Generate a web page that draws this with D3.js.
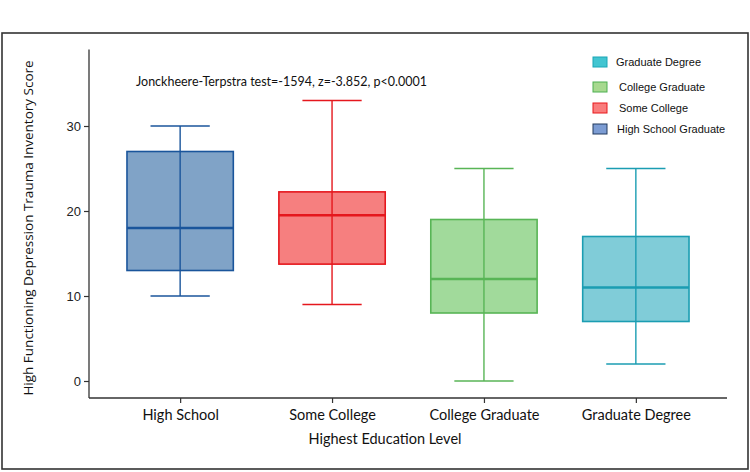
<!DOCTYPE html>
<html><head><meta charset="utf-8">
<script src="https://cdn.jsdelivr.net/npm/d3@7"></script>
<style>body{margin:0;background:#fff}svg{display:block}</style>
</head><body>
<svg id="c" width="750" height="472"></svg>
<script>
const categories = ["High School", "Some College", "College Graduate", "Graduate Degree"];
const whiskerLow  = [10, 9, 0, 2];
const q1          = [13, 13.75, 8, 7];
const median      = [18, 19.5, 12, 11];
const q3          = [27, 22.25, 19, 17];
const whiskerHigh = [30, 33, 25, 25];
const yTicks = [0, 10, 20, 30];
const legendLabels = ["Graduate Degree", "College Graduate", "Some College", "High School Graduate"];
const fills   = ["#80a3c7", "#f67f7f", "#a1da9b", "#80ccd8"];
const strokes = ["#1a559b", "#e5171d", "#58b556", "#1b9db2"];
const legendFills   = ["#42c5d1", "#a7d98f", "#f97d7d", "#7c9cd3"];
const legendStrokes = ["#1aa6b6", "#4caf50", "#e8181c", "#223a5e"];

const svg = d3.select("#c");
const font = "Lato, 'Liberation Sans', sans-serif";

// outer border
svg.append("rect").attr("x", 2).attr("y", 33).attr("width", 746).attr("height", 436)
  .attr("fill", "none").attr("stroke", "#333").attr("stroke-width", 1.6);

const x = d3.scalePoint().domain(categories).range([89, 727]).padding(0.6);
const y = d3.scaleLinear().domain([-2, 39]).range([398, 49.5]);
const step = x.step();

// axes
const yAxis = svg.append("g").attr("transform", "translate(89,0)")
  .call(d3.axisLeft(y).tickValues(yTicks).tickSize(5).tickPadding(3).tickSizeOuter(0));
const xAxis = svg.append("g").attr("transform", "translate(0,398)")
  .call(d3.axisBottom(x).tickSize(5).tickPadding(7).tickSizeOuter(0));
[yAxis, xAxis].forEach(a => {
  a.select(".domain").attr("stroke", "#333").attr("stroke-width", 1.3);
  a.selectAll(".tick line").attr("stroke", "#333").attr("stroke-width", 1.2);
});
yAxis.select(".domain").attr("d", `M0,${y.range()[1]}V${y.range()[0]}`);
xAxis.select(".domain").attr("d", `M89,0H727`);
yAxis.selectAll(".tick text").attr("font-family", "'Liberation Sans', Arial, sans-serif").attr("font-size", 13).attr("fill", "#222");
xAxis.selectAll(".tick text").attr("font-family", font).attr("font-size", 14.5).attr("fill", "#111");

// boxes
const data = categories.map((c, i) => ({c, i, lo: whiskerLow[i], q1: q1[i], med: median[i], q3: q3[i], hi: whiskerHigh[i]}));
const g = svg.append("g").selectAll("g").data(data).join("g");
const bw = step * 0.7, cw = step * 0.39;
g.append("rect")
  .attr("x", d => x(d.c) - bw / 2).attr("width", bw)
  .attr("y", d => y(d.q3)).attr("height", d => y(d.q1) - y(d.q3))
  .attr("fill", d => fills[d.i]).attr("stroke", d => strokes[d.i]).attr("stroke-width", 1.6);
g.append("line")
  .attr("x1", d => x(d.c)).attr("x2", d => x(d.c))
  .attr("y1", d => y(d.hi)).attr("y2", d => y(d.lo))
  .attr("stroke", d => strokes[d.i]).attr("stroke-width", 1.4);
g.selectAll(".cap").data(d => [d, d].map((e, k) => ({...e, v: k ? e.hi : e.lo}))).join("line")
  .attr("x1", d => x(d.c) - cw / 2).attr("x2", d => x(d.c) + cw / 2)
  .attr("y1", d => y(d.v)).attr("y2", d => y(d.v))
  .attr("stroke", d => strokes[d.i]).attr("stroke-width", 1.6);
g.append("line")
  .attr("x1", d => x(d.c) - bw / 2).attr("x2", d => x(d.c) + bw / 2)
  .attr("y1", d => y(d.med)).attr("y2", d => y(d.med))
  .attr("stroke", d => strokes[d.i]).attr("stroke-width", 2.4);

// annotation
svg.append("text").attr("x", 136).attr("y", 86).attr("font-family", font).attr("font-size", 12.5)
  .attr("fill", "#111").text("Jonckheere-Terpstra test=-1594, z=-3.852, p<0.0001");

// axis titles
svg.append("text").attr("x", 385).attr("y", 444).attr("text-anchor", "middle")
  .attr("font-family", font).attr("font-size", 14.5).attr("fill", "#111").text("Highest Education Level");
svg.append("text").attr("transform", "translate(33,228) rotate(-90)").attr("text-anchor", "middle")
  .attr("font-family", "'Open Sans', sans-serif").attr("font-size", 13.5).attr("fill", "#111")
  .text("High Functioning Depression Trauma Inventory Score");

// legend
const legY = [62, 87, 108, 129];
const leg = svg.append("g").selectAll("g").data(legendLabels).join("g")
  .attr("transform", (d, i) => `translate(593,${legY[i]})`);
leg.append("rect").attr("x", 0).attr("y", -5).attr("width", 14).attr("height", 10)
  .attr("fill", (d, i) => legendFills[i]).attr("stroke", (d, i) => legendStrokes[i]).attr("stroke-width", 1);
leg.append("text").attr("x", (d, i) => [23, 26, 26, 24][i]).attr("y", 4)
  .attr("font-family", "'Liberation Sans', Arial, sans-serif").attr("font-size", 11).attr("fill", "#111")
  .text(d => d);
</script>
</body></html>
